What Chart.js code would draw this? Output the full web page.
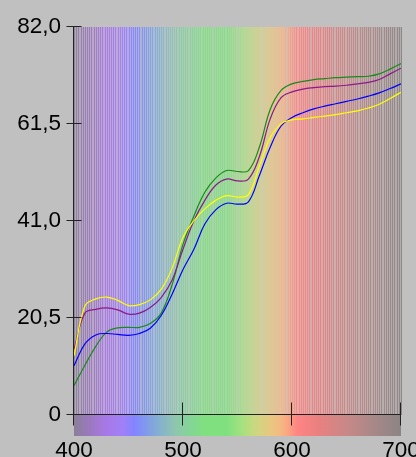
<!DOCTYPE html>
<html>
<head>
<meta charset="utf-8">
<script src="https://cdn.jsdelivr.net/npm/chart.js@4/dist/chart.umd.min.js"></script>
<style>
  html, body { margin: 0; padding: 0; background: #c0c0c0; overflow: hidden; }
  #wrap { width: 416px; height: 457px; position: relative; }
  canvas { display: block; }
</style>
</head>
<body>
<div id="wrap"><canvas id="c" width="416" height="457"></canvas></div>
<script>
// Wavelength grid (nm) and the four reflectance curves
const wavelengths = [400,410,420,430,440,450,460,470,480,490,500,510,520,530,540,550,560,570,580,590,600,610,620,630,640,650,660,670,680,690,700];
const greenSeries  = [6.2,10.5,14.5,17.5,18.4,18.5,18.5,19.3,21.5,27.5,36.0,42.0,47.0,50.0,51.6,51.4,51.6,56.5,64.5,68.5,69.9,70.4,70.8,71.0,71.2,71.3,71.4,71.5,72.0,73.0,74.2];
const purpleSeries = [13.9,21.5,22.3,22.6,22.2,21.3,21.5,22.7,24.8,28.5,35.0,41.0,45.3,48.5,49.8,49.4,49.8,54.5,62.5,67.0,68.2,68.8,69.1,69.3,69.4,69.6,69.9,70.2,70.8,72.0,73.2];
const blueSeries   = [10.4,15.0,16.9,17.2,17.0,16.8,17.2,18.3,21.0,25.5,30.7,35.0,40.3,43.3,44.7,44.5,45.0,50.5,56.5,61.0,62.8,63.8,64.6,65.2,65.7,66.2,66.7,67.3,68.0,68.9,69.9];
const yellowSeries = [12.5,23.0,24.5,24.9,24.2,23.1,23.3,24.3,26.5,31.0,37.5,41.0,43.5,45.3,46.3,46.0,46.5,52.5,58.5,61.5,62.3,62.5,62.8,63.1,63.4,63.8,64.2,64.8,65.6,66.8,68.1];

const xTicks = [400, 500, 600, 700];
const yTicks = [0, 20.5, 41, 61.5, 82];

// Visible-spectrum colour stops used for the backdrop and the strip under the axis
const spectrumStops = [
  [400, '#8a7f9a'], [415, '#9c78c0'], [430, '#a878e8'], [445, '#a080f8'],
  [455, '#8484ff'], [465, '#8098ee'], [478, '#84b0d0'], [492, '#90c4b0'],
  [505, '#84d498'], [520, '#80e080'], [540, '#80e080'], [555, '#a8e080'],
  [565, '#c8d880'], [580, '#e8c880'], [592, '#f8b480'], [605, '#ff8484'],
  [625, '#e88080'], [650, '#c88888'], [675, '#a88888'], [700, '#8c8484']
];

function hexToRgb(h) {
  const n = parseInt(h.slice(1), 16);
  return [(n >> 16) & 255, (n >> 8) & 255, n & 255];
}
function spectrum(nm) {
  if (nm <= spectrumStops[0][0]) return hexToRgb(spectrumStops[0][1]);
  for (let i = 1; i < spectrumStops.length; i++) {
    const [w1, c1] = spectrumStops[i];
    if (nm <= w1) {
      const [w0, c0] = spectrumStops[i - 1];
      const t = (nm - w0) / (w1 - w0);
      const a = hexToRgb(c0), b = hexToRgb(c1);
      return a.map((v, k) => Math.round(v + (b[k] - v) * t));
    }
  }
  return hexToRgb(spectrumStops[spectrumStops.length - 1][1]);
}
function mix(rgb, other, t) {
  return 'rgb(' + rgb.map((v, k) => Math.round(v + (other[k] - v) * t)).join(',') + ')';
}
const GREY = [200, 200, 200];
const LABEL_FONT = '22.5px "Liberation Sans", Arial, sans-serif';

const spectrumPlugin = {
  id: 'spectrumBackdrop',
  beforeDraw(chart) {
    const { ctx } = chart;
    ctx.save();
    ctx.fillStyle = '#c0c0c0';
    ctx.fillRect(0, 0, chart.width, chart.height);
    ctx.restore();
  },
  beforeDatasetsDraw(chart) {
    const { ctx, chartArea: ca } = chart;
    const xs = chart.scales.x;
    const top = Math.round(ca.top), h = Math.round(ca.bottom) - top;
    ctx.save();
    // pale base columns
    for (let px = Math.round(ca.left); px < Math.round(ca.right); px++) {
      const nm = xs.getValueForPixel(px + 0.5);
      ctx.fillStyle = mix(spectrum(nm), GREY, 0.6);
      ctx.fillRect(px, top, 1, h);
    }
    // crisp spectral lines every 2 nm
    for (let nm = xs.min; nm <= xs.max; nm += 2) {
      const px = Math.round(xs.getPixelForValue(nm));
      ctx.fillStyle = mix(spectrum(nm), GREY, 0.05);
      ctx.fillRect(px, top, 1, h);
    }
    // continuous strip below the x axis
    const grad = ctx.createLinearGradient(xs.getPixelForValue(xs.min), 0, xs.getPixelForValue(xs.max), 0);
    for (let nm = xs.min; nm <= xs.max; nm += 5) {
      grad.addColorStop((nm - xs.min) / (xs.max - xs.min), mix(spectrum(nm), GREY, 0));
    }
    ctx.fillStyle = grad;
    ctx.fillRect(ca.left, ca.bottom, ca.right - ca.left, 21);
    ctx.restore();
  },
  afterDatasetsDraw(chart) {
    const { ctx, chartArea: ca } = chart;
    const xs = chart.scales.x, ys = chart.scales.y;
    ctx.save();
    ctx.strokeStyle = '#222';
    ctx.lineWidth = 1;
    ctx.beginPath();
    // y axis line
    const ax = Math.round(ca.left) - 0.5;
    ctx.moveTo(ax, ys.getPixelForValue(ys.max));
    ctx.lineTo(ax, ca.bottom);
    // x axis line
    const ay = Math.round(ca.bottom) - 0.5;
    ctx.moveTo(ca.left, ay);
    ctx.lineTo(ca.right, ay);
    // y ticks crossing the axis
    yTicks.forEach(v => {
      const py = Math.round(ys.getPixelForValue(v)) - 0.5;
      ctx.moveTo(ax - 7, py);
      ctx.lineTo(ax + 8, py);
    });
    // x ticks crossing the axis
    xTicks.forEach(v => {
      const px = Math.round(xs.getPixelForValue(v)) - 0.5;
      ctx.moveTo(px, ay - 12);
      ctx.lineTo(px, ay + 11);
    });
    ctx.stroke();
    // x tick labels, centred under each tick
    ctx.fillStyle = '#000';
    ctx.font = LABEL_FONT;
    ctx.textAlign = 'center';
    ctx.textBaseline = 'alphabetic';
    xTicks.forEach(v => {
      ctx.fillText(String(v), xs.getPixelForValue(v), 457);
    });
    ctx.restore();
  }
};

function series(values, color) {
  return {
    data: wavelengths.map((w, i) => ({ x: w, y: values[i] })),
    borderColor: color,
    borderWidth: 1.2,
    pointRadius: 0,
    tension: 0.4,
    fill: false
  };
}

new Chart(document.getElementById('c'), {
  type: 'line',
  data: {
    datasets: [
      series(yellowSeries, '#ffff00'),
      series(blueSeries, '#0000ff'),
      series(purpleSeries, '#8b1a8b'),
      series(greenSeries, '#1a8a1a')
    ]
  },
  options: {
    responsive: false,
    devicePixelRatio: 1,
    animation: false,
    layout: { padding: { top: 20, right: 15, left: 0, bottom: 0 } },
    plugins: { legend: { display: false }, tooltip: { enabled: false } },
    scales: {
      x: {
        type: 'linear',
        min: 400, max: 700,
        afterBuildTicks: s => { s.ticks = xTicks.map(v => ({ value: v })); },
        afterFit: s => { s.height = 42; },
        grid: { display: false, drawTicks: false },
        border: { display: false },
        ticks: { display: false }
      },
      y: {
        min: 0, max: 82,
        afterBuildTicks: s => { s.ticks = yTicks.map(v => ({ value: v })); },
        afterFit: s => { s.width = 74; },
        grid: { display: false, drawTicks: false },
        border: { display: false },
        ticks: { color: '#000', font: { family: '"Liberation Sans", Arial, sans-serif', size: 22.5 },
                 padding: 13, autoSkip: false,
                 callback: v => v === 0 ? '0' : v.toFixed(1).replace('.', ',') }
      }
    }
  },
  plugins: [spectrumPlugin]
});
</script>
</body>
</html>
